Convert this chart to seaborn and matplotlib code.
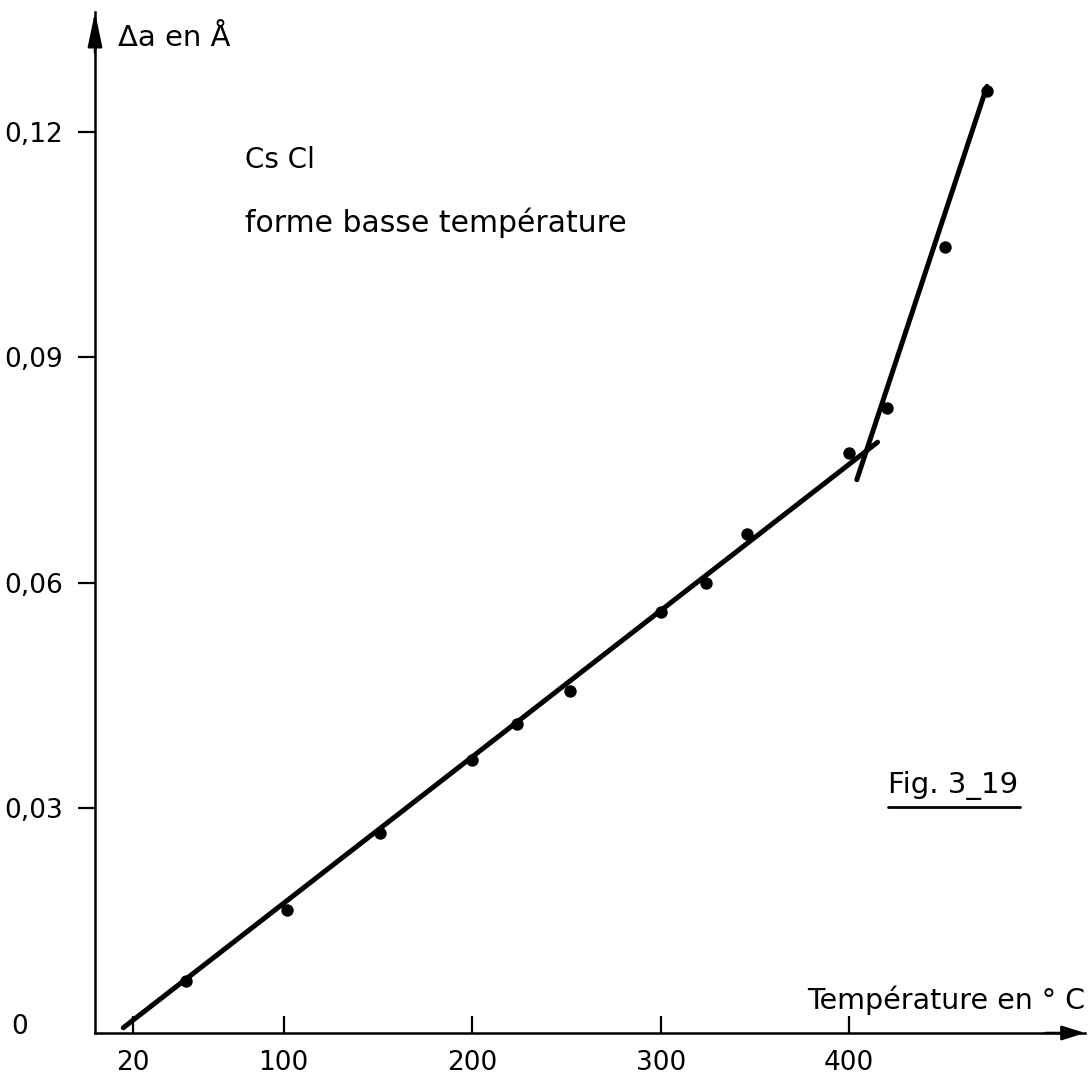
import matplotlib
matplotlib.use("Agg")
import matplotlib.pyplot as plt
import seaborn as sns
import pandas as pd

# measured points, CsCl low temperature form
temperature = [48, 102, 151, 200, 224, 252, 300, 324, 346, 400, 420, 451, 473]
delta_a = [0.0069, 0.0164, 0.0267, 0.0363, 0.0412, 0.0456, 0.0561, 0.0600,
           0.0665, 0.0773, 0.0832, 0.1047, 0.1255]

# hand-drawn straight lines (end points)
fit_low_T = [15, 415]
fit_low_da = [0.0007, 0.0787]
fit_high_T = [404, 473]
fit_high_da = [0.0737, 0.1261]

x_ticks = [20, 100, 200, 300, 400]
y_ticks = [0.03, 0.06, 0.09, 0.12]
y_ticklabels = ["0,03", "0,06", "0,09", "0,12"]

df = pd.DataFrame({"T": temperature, "da": delta_a})

sns.set_theme(style="ticks")
plt.rcParams["font.family"] = ["DejaVu Sans"]
plt.rcParams["text.color"] = "black"
plt.rcParams["axes.labelcolor"] = "black"

fig = plt.figure(figsize=(10.92, 10.8), dpi=100)
ax = fig.add_axes([95 / 1092, 47 / 1080, 990 / 1092, 1021 / 1080])

sns.lineplot(x=fit_low_T, y=fit_low_da, ax=ax, color="black", lw=3.6)
sns.lineplot(x=fit_high_T, y=fit_high_da, ax=ax, color="black", lw=3.6)
sns.scatterplot(data=df, x="T", y="da", ax=ax, color="black", s=80,
                edgecolor="black", linewidth=0, zorder=3)

ax.set_xlim(0, 525)
ax.set_ylim(0, 0.136)
ax.set_xlabel("")
ax.set_ylabel("")

for side in ["top", "right"]:
    ax.spines[side].set_visible(False)
for side in ["left", "bottom"]:
    ax.spines[side].set_linewidth(1.8)
    ax.spines[side].set_color("black")

ax.set_xticks(x_ticks)
ax.set_xticklabels([str(t) for t in x_ticks])
ax.set_yticks(y_ticks)
ax.set_yticklabels(y_ticklabels)
ax.tick_params(axis="x", direction="in", length=12, width=1.6, pad=12,
               labelsize=19, colors="black")
ax.tick_params(axis="y", direction="out", length=12, width=1.6, pad=11,
               labelsize=19, colors="black")

# arrow heads on the axes
arrow_y = dict(arrowstyle="-|>,head_length=1.05,head_width=0.22", color="black",
               lw=1.8, mutation_scale=20, shrinkA=0, shrinkB=0)
arrow_x = dict(arrowstyle="-|>,head_length=0.7,head_width=0.22", color="black",
               lw=1.8, mutation_scale=20, shrinkA=0, shrinkB=0)
ax.annotate("", xy=(1.0, 0), xytext=(0.96, 0), xycoords="axes fraction",
            arrowprops=arrow_x, annotation_clip=False)
ax.annotate("", xy=(0, 1.0), xytext=(0, 0.96), xycoords="axes fraction",
            arrowprops=arrow_y, annotation_clip=False)

ax.text(-0.0758, 0.006, "0", transform=ax.transAxes, ha="center", va="center",
        fontsize=19)
ax.text(0.023, 0.9745, "Δa en Å", transform=ax.transAxes, ha="left",
        va="center", fontsize=21)
ax.text(1.0, 0.0323, "Température en ° C", transform=ax.transAxes, ha="right",
        va="center", fontsize=20.5)
ax.text(0.1515, 0.855, "Cs Cl", transform=ax.transAxes, ha="left",
        va="center", fontsize=20)
ax.text(0.1515, 0.794, "forme basse température", transform=ax.transAxes,
        ha="left", va="center", fontsize=21.5)
ax.text(0.801, 0.242, "Fig. 3_19", transform=ax.transAxes, ha="left",
        va="center", fontsize=21)
ax.plot([0.801, 0.934], [0.2213, 0.2213], transform=ax.transAxes,
        color="black", lw=2, clip_on=False)

fig.savefig("out.png", dpi=100, facecolor="white")
